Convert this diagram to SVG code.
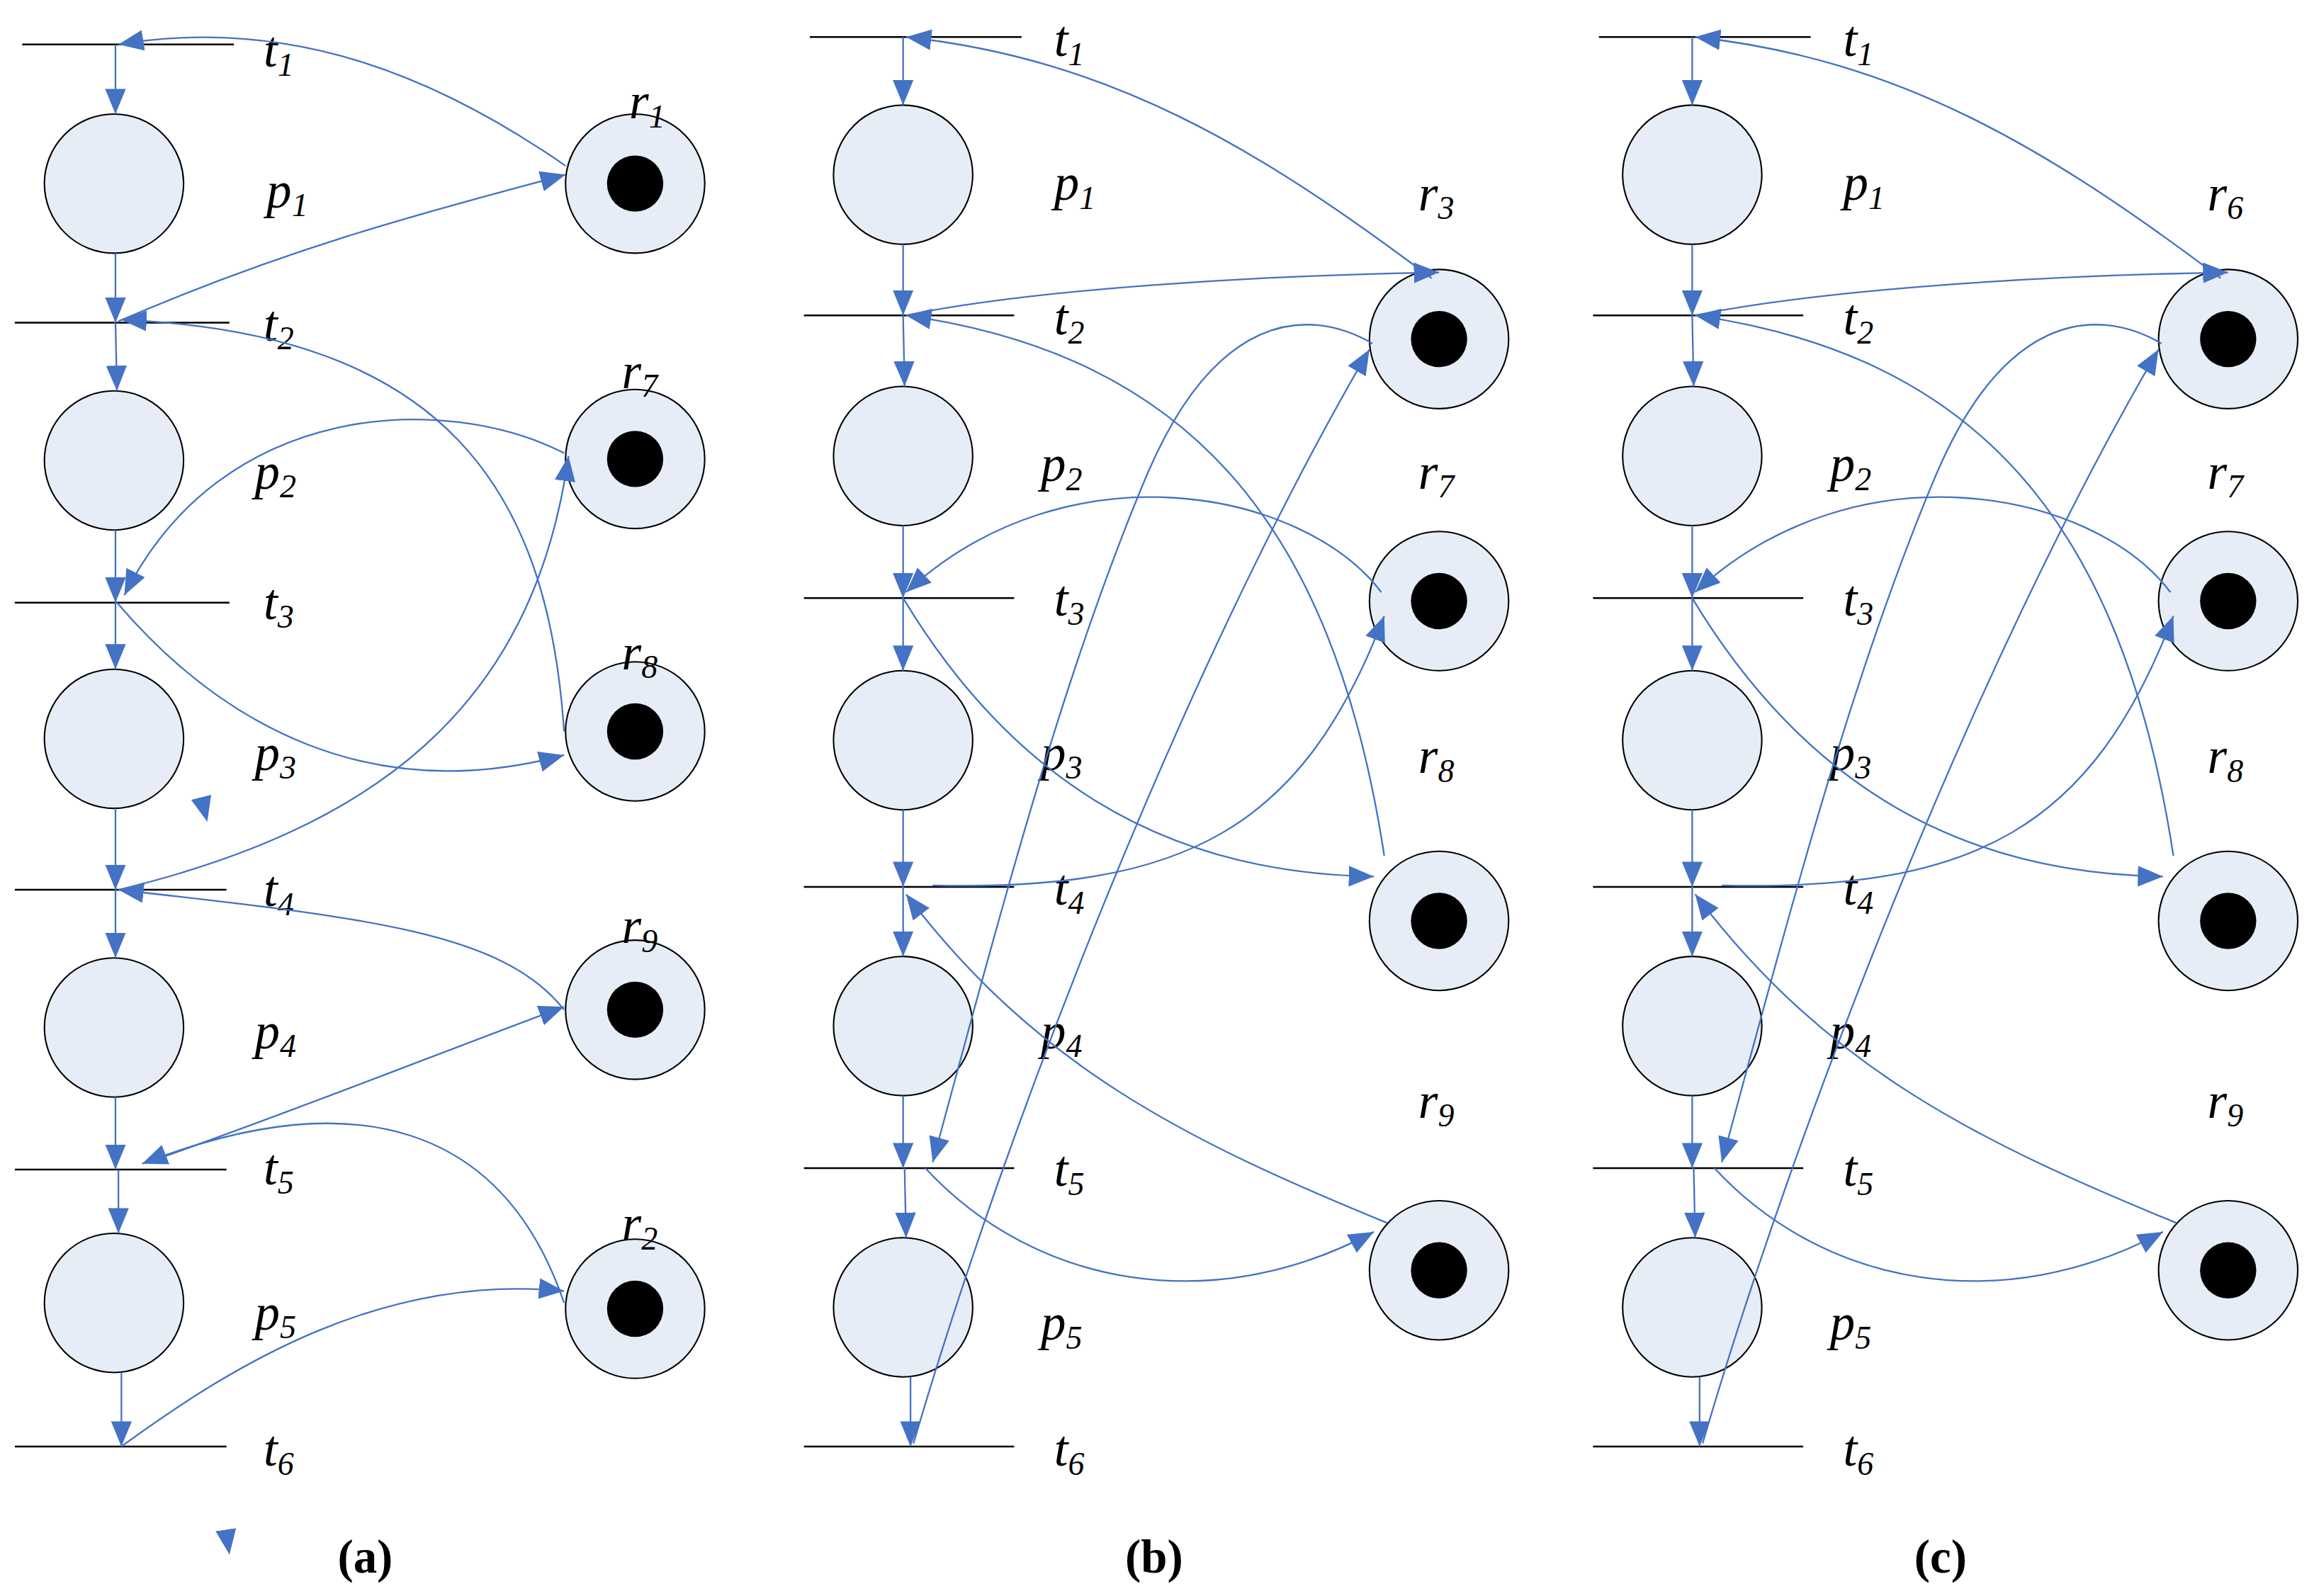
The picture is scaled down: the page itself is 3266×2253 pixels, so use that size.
<svg xmlns="http://www.w3.org/2000/svg" width="3266" height="2253" viewBox="0 0 3266 2253">
<style>
.pl{fill:#e6edf7;stroke:#000;stroke-width:1}
.tk{fill:#000}
.tr{stroke:#000;stroke-width:1.2}
.arc{fill:none;stroke:#4472c4;stroke-width:1.1;marker-end:url(#ah)}
.lb{font-family:"Liberation Serif",serif;font-style:italic;font-size:34px;fill:#000}
.sb{font-size:22px}
.cap{font-family:"Liberation Serif",serif;font-weight:bold;font-size:32px;fill:#000}
</style>
<defs>
<marker id="ah" markerUnits="userSpaceOnUse" markerWidth="18" markerHeight="16" refX="17" refY="7" orient="auto"><path d="M0,0 L17,7 L0,14 Z" fill="#4472c4"/></marker>
</defs>
<rect width="3266" height="2253" fill="#fff"/>
<g transform="scale(2.0896,2.09)">
<g id="panel-a">
<g id="a-transitions">
<line class="tr" x1="15" y1="30" x2="158" y2="30"/>
<line class="tr" x1="10" y1="218" x2="155" y2="218"/>
<line class="tr" x1="10" y1="407" x2="155" y2="407"/>
<line class="tr" x1="10" y1="601" x2="153" y2="601"/>
<line class="tr" x1="10" y1="790" x2="153" y2="790"/>
<line class="tr" x1="10" y1="977" x2="153" y2="977"/>
</g>
<g id="a-places">
<circle class="pl" cx="77" cy="124" r="47"/>
<circle class="pl" cx="77" cy="311" r="47"/>
<circle class="pl" cx="77" cy="499" r="47"/>
<circle class="pl" cx="77" cy="694" r="47"/>
<circle class="pl" cx="77" cy="880" r="47"/>
</g>
<g id="a-resources">
<circle class="pl" cx="429" cy="124" r="47"/><circle class="tk" cx="429" cy="124" r="19"/>
<circle class="pl" cx="429" cy="310" r="47"/><circle class="tk" cx="429" cy="310" r="19"/>
<circle class="pl" cx="429" cy="494" r="47"/><circle class="tk" cx="429" cy="494" r="19"/>
<circle class="pl" cx="429" cy="682" r="47"/><circle class="tk" cx="429" cy="682" r="19"/>
<circle class="pl" cx="429" cy="884" r="47"/><circle class="tk" cx="429" cy="884" r="19"/>
</g>
<g id="a-labels">
<text class="lb" x="178" y="45">t<tspan class="sb" dy="6">1</tspan></text>
<text class="lb" x="180" y="140">p<tspan class="sb" dy="6">1</tspan></text>
<text class="lb" x="178" y="230">t<tspan class="sb" dy="6">2</tspan></text>
<text class="lb" x="172" y="330">p<tspan class="sb" dy="6">2</tspan></text>
<text class="lb" x="178" y="418">t<tspan class="sb" dy="6">3</tspan></text>
<text class="lb" x="172" y="520">p<tspan class="sb" dy="6">3</tspan></text>
<text class="lb" x="178" y="612">t<tspan class="sb" dy="6">4</tspan></text>
<text class="lb" x="172" y="708">p<tspan class="sb" dy="6">4</tspan></text>
<text class="lb" x="178" y="800">t<tspan class="sb" dy="6">5</tspan></text>
<text class="lb" x="172" y="898">p<tspan class="sb" dy="6">5</tspan></text>
<text class="lb" x="178" y="990">t<tspan class="sb" dy="6">6</tspan></text>
<text class="lb" x="425" y="80">r<tspan class="sb" dy="6">1</tspan></text>
<text class="lb" x="420" y="262">r<tspan class="sb" dy="6">7</tspan></text>
<text class="lb" x="420" y="452">r<tspan class="sb" dy="6">8</tspan></text>
<text class="lb" x="420" y="637">r<tspan class="sb" dy="6">9</tspan></text>
<text class="lb" x="420" y="838">r<tspan class="sb" dy="6">2</tspan></text>
<text class="cap" x="228" y="1062">(a)</text>
</g>
</g>
<g id="panel-b">
<g id="b-transitions">
<line class="tr" x1="547" y1="25" x2="690" y2="25"/>
<line class="tr" x1="543" y1="213" x2="685" y2="213"/>
<line class="tr" x1="543" y1="404" x2="685" y2="404"/>
<line class="tr" x1="543" y1="599" x2="685" y2="599"/>
<line class="tr" x1="543" y1="789" x2="685" y2="789"/>
<line class="tr" x1="543" y1="977" x2="685" y2="977"/>
</g>
<g id="b-places">
<circle class="pl" cx="610" cy="118" r="47"/>
<circle class="pl" cx="610" cy="308" r="47"/>
<circle class="pl" cx="610" cy="500" r="47"/>
<circle class="pl" cx="610" cy="693" r="47"/>
<circle class="pl" cx="610" cy="883" r="47"/>
</g>
<g id="b-resources">
<circle class="pl" cx="972" cy="229" r="47"/><circle class="tk" cx="972" cy="229" r="19"/>
<circle class="pl" cx="972" cy="406" r="47"/><circle class="tk" cx="972" cy="406" r="19"/>
<circle class="pl" cx="972" cy="622" r="47"/><circle class="tk" cx="972" cy="622" r="19"/>
<circle class="pl" cx="972" cy="858" r="47"/><circle class="tk" cx="972" cy="858" r="19"/>
</g>
<g id="b-labels">
<text class="lb" x="712" y="38">t<tspan class="sb" dy="6">1</tspan></text>
<text class="lb" x="712" y="135">p<tspan class="sb" dy="6">1</tspan></text>
<text class="lb" x="712" y="226">t<tspan class="sb" dy="6">2</tspan></text>
<text class="lb" x="703" y="325">p<tspan class="sb" dy="6">2</tspan></text>
<text class="lb" x="712" y="416">t<tspan class="sb" dy="6">3</tspan></text>
<text class="lb" x="703" y="520">p<tspan class="sb" dy="6">3</tspan></text>
<text class="lb" x="712" y="611">t<tspan class="sb" dy="6">4</tspan></text>
<text class="lb" x="703" y="708">p<tspan class="sb" dy="6">4</tspan></text>
<text class="lb" x="712" y="801">t<tspan class="sb" dy="6">5</tspan></text>
<text class="lb" x="703" y="905">p<tspan class="sb" dy="6">5</tspan></text>
<text class="lb" x="712" y="990">t<tspan class="sb" dy="6">6</tspan></text>
<text class="lb" x="958" y="142">r<tspan class="sb" dy="6">3</tspan></text>
<text class="lb" x="958" y="330">r<tspan class="sb" dy="6">7</tspan></text>
<text class="lb" x="958" y="522">r<tspan class="sb" dy="6">8</tspan></text>
<text class="lb" x="958" y="755">r<tspan class="sb" dy="6">9</tspan></text>
<text class="cap" x="760" y="1062">(b)</text>
</g>
</g>
<g id="panel-c">
<g id="c-transitions">
<line class="tr" x1="1080" y1="25" x2="1223" y2="25"/>
<line class="tr" x1="1076" y1="213" x2="1218" y2="213"/>
<line class="tr" x1="1076" y1="404" x2="1218" y2="404"/>
<line class="tr" x1="1076" y1="599" x2="1218" y2="599"/>
<line class="tr" x1="1076" y1="789" x2="1218" y2="789"/>
<line class="tr" x1="1076" y1="977" x2="1218" y2="977"/>
</g>
<g id="c-places">
<circle class="pl" cx="1143" cy="118" r="47"/>
<circle class="pl" cx="1143" cy="308" r="47"/>
<circle class="pl" cx="1143" cy="500" r="47"/>
<circle class="pl" cx="1143" cy="693" r="47"/>
<circle class="pl" cx="1143" cy="883" r="47"/>
</g>
<g id="c-resources">
<circle class="pl" cx="1505" cy="229" r="47"/><circle class="tk" cx="1505" cy="229" r="19"/>
<circle class="pl" cx="1505" cy="406" r="47"/><circle class="tk" cx="1505" cy="406" r="19"/>
<circle class="pl" cx="1505" cy="622" r="47"/><circle class="tk" cx="1505" cy="622" r="19"/>
<circle class="pl" cx="1505" cy="858" r="47"/><circle class="tk" cx="1505" cy="858" r="19"/>
</g>
<g id="c-labels">
<text class="lb" x="1245" y="38">t<tspan class="sb" dy="6">1</tspan></text>
<text class="lb" x="1245" y="135">p<tspan class="sb" dy="6">1</tspan></text>
<text class="lb" x="1245" y="226">t<tspan class="sb" dy="6">2</tspan></text>
<text class="lb" x="1236" y="325">p<tspan class="sb" dy="6">2</tspan></text>
<text class="lb" x="1245" y="416">t<tspan class="sb" dy="6">3</tspan></text>
<text class="lb" x="1236" y="520">p<tspan class="sb" dy="6">3</tspan></text>
<text class="lb" x="1245" y="611">t<tspan class="sb" dy="6">4</tspan></text>
<text class="lb" x="1236" y="708">p<tspan class="sb" dy="6">4</tspan></text>
<text class="lb" x="1245" y="801">t<tspan class="sb" dy="6">5</tspan></text>
<text class="lb" x="1236" y="905">p<tspan class="sb" dy="6">5</tspan></text>
<text class="lb" x="1245" y="990">t<tspan class="sb" dy="6">6</tspan></text>
<text class="lb" x="1491" y="142">r<tspan class="sb" dy="6">6</tspan></text>
<text class="lb" x="1491" y="330">r<tspan class="sb" dy="6">7</tspan></text>
<text class="lb" x="1491" y="522">r<tspan class="sb" dy="6">8</tspan></text>
<text class="lb" x="1491" y="755">r<tspan class="sb" dy="6">9</tspan></text>
<text class="cap" x="1293" y="1062">(c)</text>
</g>
</g>
<g id="connectors">
<!-- panel a column -->
<path class="arc" d="M78,30 L78,77"/>
<path class="arc" d="M78,171 L78,218"/>
<path class="arc" d="M78,218 L79,264"/>
<path class="arc" d="M78,358 L78,407"/>
<path class="arc" d="M78,407 L78,452"/>
<path class="arc" d="M78,546 L78,601"/>
<path class="arc" d="M78,601 L78,647"/>
<path class="arc" d="M78,741 L78,790"/>
<path class="arc" d="M80,790 L80,833"/>
<path class="arc" d="M82,927 L82,977"/>
<!-- panel a resources -->
<path class="arc" d="M382,112 C300,55 200,10 80,30"/>
<path class="arc" d="M80,217 C200,165 300,140 382,118"/>
<path class="arc" d="M381,306 C300,265 150,270 84,402"/>
<path class="arc" d="M381,494 C370,330 300,225 82,216"/>
<path class="arc" d="M79,407 C150,490 250,545 381,510"/>
<path class="arc" d="M155,1050"/>
<path class="arc" d="M140,555"/>
<path class="arc" d="M80,601 C250,560 360,480 384,308"/>
<path class="arc" d="M381,682 C340,630 250,620 80,601"/>
<path class="arc" d="M100,785 C200,750 300,710 381,680"/>
<path class="arc" d="M381,880 C340,760 240,730 96,786"/>
<path class="arc" d="M82,977 C160,920 260,860 381,872"/>
<!-- panel b column -->
<path class="arc" d="M610,25 L610,71"/>
<path class="arc" d="M610,165 L610,213"/>
<path class="arc" d="M610,213 L611,261"/>
<path class="arc" d="M610,355 L610,404"/>
<path class="arc" d="M610,404 L610,453"/>
<path class="arc" d="M610,547 L610,599"/>
<path class="arc" d="M610,599 L610,646"/>
<path class="arc" d="M610,740 L610,789"/>
<path class="arc" d="M611,789 L612,836"/>
<path class="arc" d="M615,930 L615,977"/>
<!-- panel b resources -->
<path class="arc" d="M967,188 C850,100 750,40 612,25"/>
<path class="arc" d="M612,213 C700,195 850,186 972,184"/>
<path class="arc" d="M935,578 C900,350 800,240 612,213"/>
<path class="arc" d="M927,232 C880,205 820,215 775,320 C720,450 680,600 630,785"/>
<path class="arc" d="M617,975 C680,760 800,450 925,236"/>
<path class="arc" d="M933,400 C880,330 720,300 612,400"/>
<path class="arc" d="M630,598 C800,602 880,560 935,416"/>
<path class="arc" d="M610,404 C680,520 780,590 928,592"/>
<path class="arc" d="M937,826 C800,770 700,720 612,604"/>
<path class="arc" d="M625,789 C700,870 820,890 928,832"/>
<!-- panel c column -->
<path class="arc" d="M1143,25 L1143,71"/>
<path class="arc" d="M1143,165 L1143,213"/>
<path class="arc" d="M1143,213 L1144,261"/>
<path class="arc" d="M1143,355 L1143,404"/>
<path class="arc" d="M1143,404 L1143,453"/>
<path class="arc" d="M1143,547 L1143,599"/>
<path class="arc" d="M1143,599 L1143,646"/>
<path class="arc" d="M1143,740 L1143,789"/>
<path class="arc" d="M1144,789 L1145,836"/>
<path class="arc" d="M1148,930 L1148,977"/>
<!-- panel c resources -->
<path class="arc" d="M1500,188 C1383,100 1283,40 1145,25"/>
<path class="arc" d="M1145,213 C1233,195 1383,186 1505,184"/>
<path class="arc" d="M1468,578 C1433,350 1333,240 1145,213"/>
<path class="arc" d="M1460,232 C1413,205 1353,215 1308,320 C1253,450 1213,600 1163,785"/>
<path class="arc" d="M1150,975 C1213,760 1333,450 1458,236"/>
<path class="arc" d="M1466,400 C1413,330 1253,300 1145,400"/>
<path class="arc" d="M1163,598 C1333,602 1413,560 1468,416"/>
<path class="arc" d="M1143,404 C1213,520 1313,590 1461,592"/>
<path class="arc" d="M1470,826 C1333,770 1233,720 1145,604"/>
<path class="arc" d="M1158,789 C1233,870 1353,890 1461,832"/>
</g>
</g>
</svg>
